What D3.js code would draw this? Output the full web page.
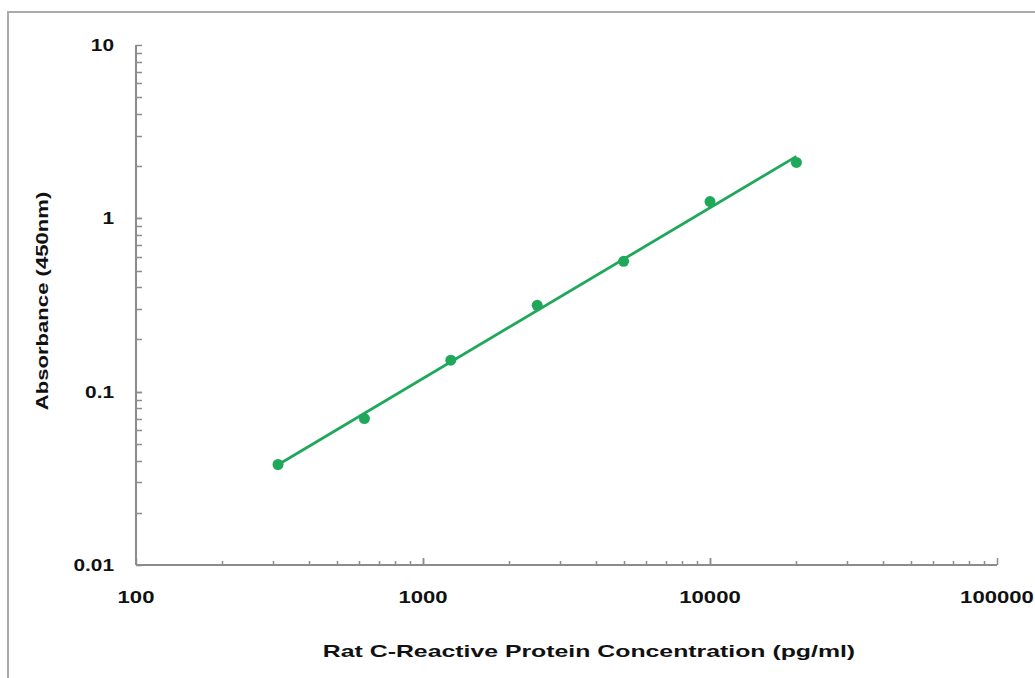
<!DOCTYPE html>
<html>
<head>
<meta charset="utf-8">
<script src="https://cdnjs.cloudflare.com/ajax/libs/d3/7.8.5/d3.min.js"></script>
<style>
  body { margin: 0; background: #fff; }
  svg text { font-family: "Liberation Sans", Arial, sans-serif; font-weight: bold; fill: #111; }
</style>
</head>
<body>
<svg id="chart" width="1035" height="678"></svg>
<script>
// standard curve data
var concentration = [312.5, 625, 1250, 2500, 5000, 10000, 20000];
var absorbance = [0.038, 0.07, 0.152, 0.315, 0.565, 1.25, 2.1];
var xTicks = [100, 1000, 10000, 100000];
var yTicks = [0.01, 0.1, 1, 10];
var xTickLabels = ["100", "1000", "10000", "100000"];
var yTickLabels = ["0.01", "0.1", "1", "10"];

var svg = d3.select("#chart");
var green = "#1fa85a";
var axisColor = "#8c8c8c";

var plotLeft = 136, plotRight = 997, plotTop = 45, plotBottom = 565;

var x = d3.scaleLog().domain([100, 100000]).range([plotLeft, plotRight]);
var y = d3.scaleLog().domain([0.01, 10]).range([plotBottom, plotTop]);

// outer frame
svg.append("rect")
    .attr("x", 8).attr("y", 12)
    .attr("width", 1040).attr("height", 700)
    .attr("fill", "none")
    .attr("stroke", "#aaaaaa")
    .attr("stroke-width", 2);

// minor ticks (inside)
function minorValues(lo, hi) {
    var vals = [];
    for (var p = lo; p < hi; p *= 10) {
        for (var k = 1; k <= 10; k++) vals.push(p * k);
    }
    return vals;
}

svg.append("g").selectAll("line")
    .data(minorValues(0.01, 10))
    .enter().append("line")
    .attr("x1", plotLeft).attr("x2", plotLeft + 6)
    .attr("y1", function(d) { return Math.round(y(d)) + 0.5; })
    .attr("y2", function(d) { return Math.round(y(d)) + 0.5; })
    .attr("stroke", axisColor).attr("stroke-width", 1.5);

svg.append("g").selectAll("line")
    .data(minorValues(100, 100000))
    .enter().append("line")
    .attr("x1", function(d) { return Math.round(x(d)) + 0.5; })
    .attr("x2", function(d) { return Math.round(x(d)) + 0.5; })
    .attr("y1", plotBottom)
    .attr("y2", function(d) { return xTicks.indexOf(d) >= 0 ? plotBottom - 7 : plotBottom - 4; })
    .attr("stroke", axisColor).attr("stroke-width", 1.5);

// axis lines
svg.append("line")
    .attr("x1", plotLeft).attr("x2", plotLeft).attr("y1", plotTop).attr("y2", plotBottom)
    .attr("stroke", axisColor).attr("stroke-width", 2);
svg.append("line")
    .attr("x1", plotLeft).attr("x2", plotRight).attr("y1", plotBottom).attr("y2", plotBottom)
    .attr("stroke", axisColor).attr("stroke-width", 2);

// stretch text horizontally like the original
function widen(sel, factor) {
    sel.each(function() {
        var len = this.getComputedTextLength();
        d3.select(this).attr("textLength", len * factor).attr("lengthAdjust", "spacingAndGlyphs");
    });
}

svg.append("g").selectAll("text")
    .data(yTicks)
    .enter().append("text")
    .attr("x", 114)
    .attr("y", function(d) { return y(d) + 6; })
    .attr("text-anchor", "end")
    .attr("font-size", 16)
    .text(function(d, i) { return yTickLabels[i]; })
    .call(widen, 1.3);

svg.append("g").selectAll("text")
    .data(xTicks)
    .enter().append("text")
    .attr("x", function(d) { return x(d); })
    .attr("y", 603)
    .attr("text-anchor", "middle")
    .attr("font-size", 17)
    .text(function(d, i) { return xTickLabels[i]; })
    .call(widen, 1.3);

// axis titles
svg.append("text")
    .attr("x", 589).attr("y", 657)
    .attr("text-anchor", "middle")
    .attr("font-size", 17)
    .text("Rat C-Reactive Protein Concentration (pg/ml)")
    .call(widen, 1.46);

svg.append("text")
    .attr("transform", "translate(48,301) rotate(-90)")
    .attr("text-anchor", "middle")
    .attr("font-size", 17)
    .text("Absorbance (450nm)")
    .call(widen, 1.3);

// power trendline from log-log least squares
var lx = concentration.map(function(d) { return Math.log10(d); });
var ly = absorbance.map(function(d) { return Math.log10(d); });
var mx = d3.mean(lx), my = d3.mean(ly);
var slope = d3.sum(lx, function(d, i) { return (d - mx) * (ly[i] - my); }) /
            d3.sum(lx, function(d) { return (d - mx) * (d - mx); });
var icpt = my - slope * mx;
var fitX = [concentration[0], concentration[concentration.length - 1]];

svg.append("path")
    .datum(fitX)
    .attr("fill", "none")
    .attr("stroke", green)
    .attr("stroke-width", 2.8)
    .attr("d", d3.line()
        .x(function(d) { return x(d); })
        .y(function(d) { return y(Math.pow(10, icpt + slope * Math.log10(d))); }));

svg.append("g").selectAll("circle")
    .data(concentration)
    .enter().append("circle")
    .attr("cx", function(d) { return x(d); })
    .attr("cy", function(d, i) { return y(absorbance[i]); })
    .attr("r", 5.5)
    .attr("fill", green);
</script>
</body>
</html>
